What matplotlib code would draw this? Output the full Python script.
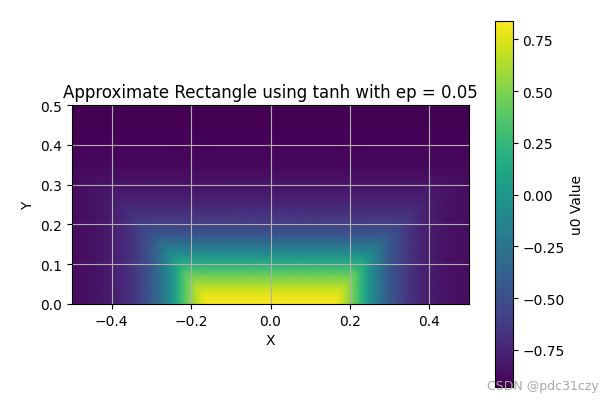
import numpy as np
import matplotlib
matplotlib.use("Agg")
import matplotlib.pyplot as plt

# profils : ligne du bas (y=0) et colonne du centre (x=0)
x_half = [-0.5, -0.45, -0.4, -0.375, -0.35, -0.325, -0.3, -0.275, -0.25, -0.2375,
          -0.225, -0.2125, -0.2, -0.1875, -0.175, -0.1625, -0.15, -0.125, -0.1, -0.05]
u_x_half = [-0.87, -0.85, -0.79, -0.74, -0.67, -0.57, -0.45, -0.25, -0.05, 0.12,
            0.27, 0.41, 0.53, 0.64, 0.74, 0.82, 0.88, 0.94, 0.97, 0.99]
x_vals = x_half + [0.0] + [-v for v in x_half[::-1]]
u_x = u_x_half + [1.0] + u_x_half[::-1]

y_vals = [0.0, 0.0125, 0.025, 0.0375, 0.05, 0.075, 0.1, 0.125, 0.15, 0.175, 0.2,
          0.225, 0.25, 0.275, 0.3, 0.35, 0.4, 0.45, 0.5]
u_y = [0.84, 0.81, 0.76, 0.69, 0.61, 0.42, 0.18, -0.06, -0.27, -0.46, -0.59,
       -0.68, -0.74, -0.80, -0.84, -0.89, -0.915, -0.925, -0.93]

# le champ suit le plus petit des deux profils (plis en diagonale)
u0 = np.minimum.outer(np.array(u_y), np.array(u_x))
X, Y = np.meshgrid(x_vals, y_vals)

fig = plt.figure(figsize=(6.13, 4.06), dpi=100)
ax = fig.add_axes([0.1175, 0.2488, 0.6476, 0.4901])
cax = fig.add_axes([0.8067, 0.0443, 0.0294, 0.9022])

mesh = ax.pcolormesh(X, Y, u0, cmap="viridis", shading="gouraud")
ax.set_xlim(-0.5, 0.5)
ax.set_ylim(0, 0.5)
ax.set_xticks([-0.4, -0.2, 0.0, 0.2, 0.4])
ax.set_yticks([0.0, 0.1, 0.2, 0.3, 0.4, 0.5])
ax.set_xlabel("X")
ax.set_ylabel("Y")
ax.set_title("Approximate Rectangle using tanh with ep = 0.05")
ax.grid(True)

cb = fig.colorbar(mesh, cax=cax)
cb.set_ticks([-0.75, -0.5, -0.25, 0.0, 0.25, 0.5, 0.75])
cb.set_label("u0 Value")

fig.text(0.976, 0.032, "CSDN @pdc31czy", ha="right", va="bottom",
         color="#a8a8a8", fontsize=9)

fig.savefig("out.png", dpi=100)
